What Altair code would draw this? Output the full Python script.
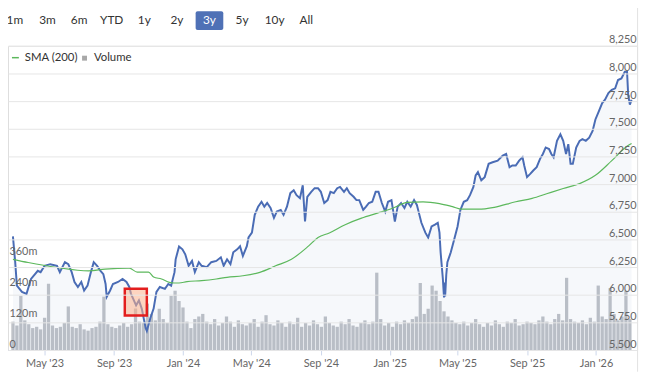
import altair as alt
import pandas as pd

BUTTONS = ["1m", "3m", "6m", "YTD", "1y", "2y", "3y", "5y", "10y", "All"]
SELECTED = "3y"

PRICE_DATES = [
    "2023-03-06", "2023-03-10", "2023-03-13", "2023-03-22", "2023-03-30", "2023-04-07", "2023-04-19", "2023-04-24",
    "2023-05-01", "2023-05-11", "2023-05-23", "2023-05-28", "2023-06-06", "2023-06-12", "2023-06-18", "2023-06-23",
    "2023-06-29", "2023-07-05", "2023-07-10", "2023-07-16", "2023-07-22", "2023-07-27", "2023-08-02", "2023-08-08",
    "2023-08-13", "2023-08-17", "2023-08-19", "2023-08-25", "2023-08-30", "2023-09-08", "2023-09-16", "2023-09-23",
    "2023-09-28", "2023-10-01", "2023-10-10", "2023-10-15", "2023-10-20", "2023-10-27", "2023-10-29", "2023-11-04",
    "2023-11-10", "2023-11-15", "2023-11-21", "2023-11-30", "2023-12-06", "2023-12-11", "2023-12-17", "2023-12-19",
    "2023-12-25", "2023-12-31", "2024-01-05", "2024-01-11", "2024-01-17", "2024-01-22", "2024-01-29", "2024-02-03",
    "2024-02-12", "2024-02-20", "2024-02-29", "2024-03-08", "2024-03-13", "2024-03-19", "2024-03-25", "2024-03-30",
    "2024-04-06", "2024-04-11", "2024-04-16", "2024-04-23", "2024-04-26", "2024-05-02", "2024-05-07", "2024-05-13",
    "2024-05-19", "2024-05-24", "2024-05-29", "2024-06-04", "2024-06-10", "2024-06-15", "2024-06-22", "2024-06-27",
    "2024-07-03", "2024-07-09", "2024-07-15", "2024-07-20", "2024-07-26", "2024-07-31", "2024-08-04", "2024-08-08",
    "2024-08-15", "2024-08-21", "2024-08-27", "2024-09-01", "2024-09-07", "2024-09-13", "2024-09-18", "2024-09-24",
    "2024-09-30", "2024-10-05", "2024-10-12", "2024-10-17", "2024-10-22", "2024-10-29", "2024-11-03", "2024-11-08",
    "2024-11-15", "2024-11-20", "2024-11-25", "2024-12-01", "2024-12-07", "2024-12-12", "2024-12-18", "2024-12-24",
    "2024-12-29", "2025-01-04", "2025-01-10", "2025-01-15", "2025-01-21", "2025-01-27", "2025-02-01", "2025-02-07",
    "2025-02-13", "2025-02-18", "2025-02-21", "2025-02-26", "2025-03-05", "2025-03-10", "2025-03-16", "2025-03-22",
    "2025-03-27", "2025-03-30", "2025-04-01", "2025-04-05", "2025-04-07", "2025-04-08", "2025-04-09", "2025-04-11",
    "2025-04-13", "2025-04-19", "2025-04-25", "2025-05-01", "2025-05-06", "2025-05-12", "2025-05-18", "2025-05-23",
    "2025-05-29", "2025-06-02", "2025-06-06", "2025-06-12", "2025-06-18", "2025-06-25", "2025-07-02", "2025-07-11",
    "2025-07-20", "2025-07-26", "2025-08-01", "2025-08-06", "2025-08-12", "2025-08-18", "2025-08-24", "2025-08-27",
    "2025-09-01", "2025-09-07", "2025-09-12", "2025-09-18", "2025-09-24", "2025-09-29", "2025-10-04", "2025-10-10",
    "2025-10-14", "2025-10-18", "2025-10-24", "2025-10-30", "2025-11-04", "2025-11-09", "2025-11-13", "2025-11-17",
    "2025-11-21", "2025-11-27", "2025-12-03", "2025-12-08", "2025-12-14", "2025-12-20", "2025-12-26", "2025-12-31",
    "2026-01-06", "2026-01-12", "2026-01-17", "2026-01-23", "2026-01-29", "2026-02-04", "2026-02-09", "2026-02-15",
    "2026-02-21", "2026-02-25", "2026-02-27", "2026-03-02", "2026-03-05",
]
PRICE_VALUES = [
    6528, 6294, 6082, 6026, 6008, 6142, 6216, 6204,
    6261, 6276, 6261, 6204, 6294, 6276, 6204, 6115,
    6070, 6115, 6038, 6082, 6204, 6294, 6261, 6216,
    6186, 6097, 5981, 6038, 6097, 6115, 6142, 6115,
    6070, 6008, 5904, 5948, 5874, 5696, 5672, 5785,
    5874, 6026, 6070, 6053, 6097, 6082, 6204, 6320,
    6436, 6410, 6365, 6261, 6305, 6204, 6294, 6261,
    6249, 6294, 6305, 6338, 6261, 6320, 6276, 6383,
    6410, 6439, 6350, 6439, 6517, 6561, 6722, 6796,
    6840, 6796, 6829, 6784, 6695, 6751, 6766, 6722,
    6796, 6918, 6945, 6900, 6873, 6989, 6662, 6885,
    6930, 6963, 6963, 6930, 6829, 6855, 6930, 6918,
    6963, 6974, 6930, 6963, 6918, 6885, 6855, 6855,
    6766, 6796, 6829, 6840, 6930, 6930, 6829, 6751,
    6840, 6855, 6662, 6796, 6829, 6784, 6840, 6796,
    6855, 6811, 6751, 6650, 6561, 6517, 6617, 6633,
    6650, 6561, 6383, 6142, 5975, 6110, 5985, 6180,
    6294, 6383, 6499, 6617, 6766, 6840, 6855, 6900,
    6974, 7079, 7108, 7034, 7063, 7183, 7197, 7212,
    7257, 7272, 7153, 7168, 7168, 7212, 7242, 7168,
    7063, 7094, 7123, 7153, 7228, 7272, 7331, 7317,
    7272, 7242, 7391, 7450, 7391, 7272, 7361, 7183,
    7183, 7331, 7391, 7406, 7391, 7420, 7480, 7584,
    7658, 7732, 7763, 7822, 7852, 7866, 7941, 7955,
    8015, 8015, 7807, 7718, 7763,
]

SMA_DATES = [
    "2023-03-06", "2023-04-02", "2023-05-23", "2023-07-18", "2023-08-16", "2023-09-28", "2023-10-12", "2023-11-01",
    "2023-11-10", "2023-11-24", "2023-12-08", "2023-12-17", "2023-12-25", "2024-01-08", "2024-02-03", "2024-02-29",
    "2024-03-19", "2024-04-16", "2024-05-16", "2024-06-13", "2024-07-11", "2024-08-10", "2024-08-27", "2024-09-16",
    "2024-10-14", "2024-11-12", "2024-12-10", "2025-01-06", "2025-02-01", "2025-03-01", "2025-03-30", "2025-04-22",
    "2025-05-09", "2025-06-07", "2025-07-05", "2025-08-12", "2025-09-10", "2025-10-07", "2025-11-04", "2025-12-03",
    "2025-12-31", "2026-01-29", "2026-02-26", "2026-03-05",
]
SMA_VALUES = [
    6320, 6291, 6246, 6216, 6231, 6240, 6204, 6204,
    6160, 6142, 6112, 6106, 6106, 6118, 6127, 6142,
    6157, 6171, 6202, 6261, 6320, 6439, 6517, 6558,
    6633, 6692, 6737, 6781, 6835, 6840, 6824, 6796,
    6773, 6773, 6790, 6840, 6871, 6915, 6960, 7004,
    7079, 7212, 7346, 7367,
]

# weekly volume (millions), one value per week from 2023-03-06
VOLUME_START = "2023-03-06"
VOLUME_M = [
    110, 95, 210, 115, 100, 85, 90, 80, 125, 257,
    95, 85, 90, 105, 169, 90, 85, 100, 80, 75,
    85, 90, 110, 207, 100, 90, 85, 95, 105, 90,
    100, 161, 110, 105, 180, 140, 115, 160, 120, 105,
    210, 230, 190, 165, 110, 85, 120, 130, 140, 110,
    100, 120, 95, 105, 130, 110, 90, 115, 100, 95,
    105, 120, 90, 110, 135, 100, 95, 115, 105, 90,
    110, 100, 125, 90, 105, 95, 115, 100, 90, 130,
    105, 95, 90, 110, 100, 120, 95, 90, 105, 115,
    100, 110, 300, 120, 95, 105, 90, 110, 100, 115,
    105, 120, 130, 260, 140, 160, 250, 230, 190, 150,
    130, 115, 105, 100, 110, 95, 105, 120, 100, 90,
    105, 95, 115, 100, 90, 110, 105, 120, 95, 100,
    110, 105, 100, 115, 130, 110, 100, 120, 140, 115,
    280, 120, 110, 105, 115, 100, 125, 110, 250, 130,
    120, 240, 140, 115, 130, 230, 120,
]

BOX_DATES = ["2023-09-20", "2023-10-29"]
BOX_VALUES = [6053, 5812]

PRICE_TICKS = [5500, 5750, 6000, 6250, 6500, 6750, 7000, 7250, 7500, 7750, 8000, 8250]
VOLUME_TICKS = [0, 120, 240, 360]
MONTH_TICKS = [(2023, 5), (2023, 9), (2024, 1), (2024, 5), (2024, 9), (2025, 1), (2025, 5), (2025, 9), (2026, 1)]

price_df = pd.DataFrame({"date": PRICE_DATES, "value": PRICE_VALUES})
sma_df = pd.DataFrame({"date": SMA_DATES, "value": SMA_VALUES})
vol_dates = pd.date_range(VOLUME_START, periods=len(VOLUME_M), freq="7D").strftime("%Y-%m-%d")
vol_df = pd.DataFrame({"date": vol_dates, "vol": VOLUME_M})
box_df = pd.DataFrame({"date": [BOX_DATES[0]], "d2": [BOX_DATES[1]], "value": [BOX_VALUES[0]], "v2": [BOX_VALUES[1]]})

FONT = "Lato"
W, H = 637, 308
LINE_BLUE = "#4a6cb5"
GREEN = "#5cb85c"
LABEL = "#666666"

xscale = alt.Scale(
    type="utc",
    domain=[alt.DateTime(year=2023, month=3, date=6, utc=True), alt.DateTime(year=2026, month=3, date=6, utc=True)],
)
xaxis = alt.Axis(
    title=None,
    values=[alt.DateTime(year=y, month=m, date=1, utc=True) for y, m in MONTH_TICKS],
    format="%b '%y",
    grid=False,
    tickSize=5,
    tickColor="#ccd6eb",
    domainColor="#ccd6eb",
    labelColor=LABEL,
    labelFontSize=11,
    labelFont=FONT,
    labelPadding=3,
)
yscale = alt.Scale(domain=[5500, 8250], zero=False, nice=False)
price_axis = alt.Axis(
    orient="right",
    title=None,
    values=PRICE_TICKS,
    labelExpr="format(datum.value, ',d')",
    grid=True,
    gridColor="#e6e6e6",
    domain=False,
    ticks=False,
    tickSize=0,
    labelAlign="right",
    labelPadding=-1,
    labelBaseline="bottom",
    labelOffset=-1,
    labelColor=LABEL,
    labelFontSize=11,
    labelFont=FONT,
    zindex=1,
)
vol_axis = alt.Axis(
    orient="left",
    title=None,
    values=VOLUME_TICKS,
    labelExpr="datum.value == 0 ? '0' : datum.value + 'm'",
    grid=False,
    domain=False,
    ticks=False,
    tickSize=0,
    labelAlign="left",
    labelPadding=-1,
    labelBaseline="bottom",
    labelOffset=-1,
    labelColor=LABEL,
    labelFontSize=11,
    labelFont=FONT,
    zindex=1,
)

X = alt.X("date:T", scale=xscale, axis=xaxis)
Y = alt.Y("value:Q", scale=yscale, axis=price_axis)

volume = alt.Chart(vol_df).mark_bar(width=3.3, color="#bfc2c8").encode(
    x=X,
    y=alt.Y("vol:Q", scale=alt.Scale(domain=[0, 1180], nice=False), axis=vol_axis),
)

area = alt.Chart(price_df).mark_area(color=LINE_BLUE, opacity=0.05).encode(
    x=X, y=Y, y2=alt.datum(5500),
)
price_line = alt.Chart(price_df).mark_line(color=LINE_BLUE, strokeWidth=2).encode(x=X, y=Y)
sma_line = alt.Chart(sma_df).mark_line(color=GREEN, strokeWidth=1.2, interpolate="monotone").encode(x=X, y=Y)
box = alt.Chart(box_df).mark_rect(fill="#fbb08c", fillOpacity=0.55, stroke="#e31e1e", strokeWidth=2.5).encode(
    x=X, x2="d2:T", y=Y, y2="v2:Q",
)

main = alt.layer(volume, alt.layer(area, price_line, sma_line, box)).resolve_scale(y="independent")

one = pd.DataFrame({"k": [0]})
BUTTON_X = [7, 40, 72, 105, 138, 171, 204, 237, 270, 302]
overlays = []
sel_i = BUTTONS.index(SELECTED)
overlays.append(
    alt.Chart(one).mark_rect(color="#4f71b6", cornerRadius=2).encode(
        x=alt.value(BUTTON_X[sel_i] - 14), x2=alt.value(BUTTON_X[sel_i] + 14),
        y=alt.value(-35), y2=alt.value(-16),
    )
)
for lab, px in zip(BUTTONS, BUTTON_X):
    overlays.append(
        alt.Chart(pd.DataFrame({"t": [lab]})).mark_text(
            font=FONT, fontSize=12, color="#ffffff" if lab == SELECTED else "#333333", align="center", baseline="middle"
        ).encode(text="t:N", x=alt.value(px), y=alt.value(-26))
    )
# legend
overlays.append(
    alt.Chart(one).mark_rule(color=GREEN, strokeWidth=1.5).encode(x=alt.value(4), x2=alt.value(11), y=alt.value(12))
)
overlays.append(
    alt.Chart(pd.DataFrame({"t": ["SMA (200)"]})).mark_text(
        font=FONT, fontSize=11.5, color="#333333", align="left", baseline="middle"
    ).encode(text="t:N", x=alt.value(17), y=alt.value(12))
)
overlays.append(
    alt.Chart(one).mark_rect(color="#a8a8a8").encode(
        x=alt.value(75), x2=alt.value(80), y=alt.value(10), y2=alt.value(15)
    )
)
overlays.append(
    alt.Chart(pd.DataFrame({"t": ["Volume"]})).mark_text(
        font=FONT, fontSize=11.5, color="#333333", align="left", baseline="middle"
    ).encode(text="t:N", x=alt.value(87), y=alt.value(12))
)
# right border line
overlays.append(
    alt.Chart(one).mark_rule(color="#e2e2e2", strokeWidth=1).encode(
        x=alt.value(W + 0.5), y=alt.value(-44), y2=alt.value(H + 22)
    )
)

chart = alt.layer(main, *overlays).properties(
    width=W,
    height=H,
    autosize=alt.AutoSizeParams(type="none"),
    padding={"left": 0, "top": 36, "right": 6, "bottom": 22},
).configure_view(stroke=None).configure(font=FONT)

chart.save("out.html", embed_options={"renderer": "svg", "actions": False})
